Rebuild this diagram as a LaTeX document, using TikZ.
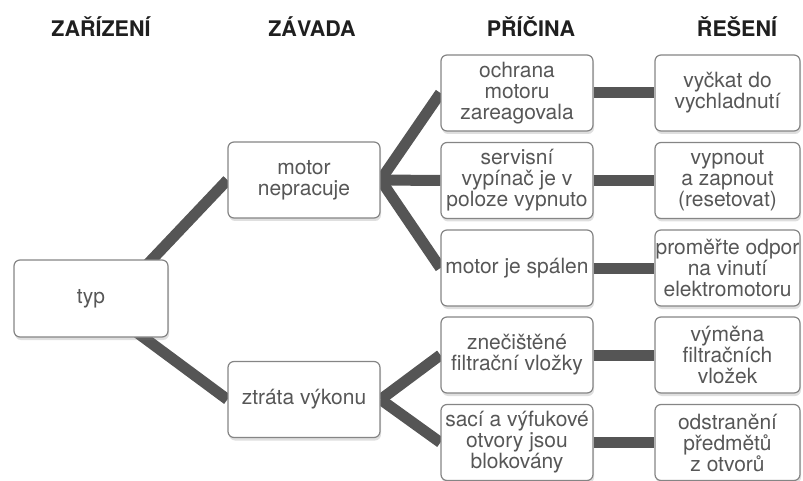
\documentclass[tikz,border=0pt]{standalone}
\usepackage{fontspec}
\setmainfont{TeX Gyre Heros}
\usetikzlibrary{shadows,backgrounds}
\definecolor{linegray}{HTML}{555555}
\definecolor{boxgray}{HTML}{858585}
\definecolor{textgray}{HTML}{575757}
\begin{document}
\begin{tikzpicture}[x=1pt,y=-1pt,
  box/.style={draw=boxgray, line width=1.2pt, rounded corners=6pt, fill=white,
    text=textgray, align=center, inner sep=0pt, minimum width=152pt,
    minimum height=76pt, font=\fontsize{21}{21}\selectfont,
    drop shadow={shadow xshift=1pt, shadow yshift=-3pt, opacity=.25}},
  fixbox/.style={box, minimum width=145pt},
  head/.style={anchor=base, font=\fontsize{21.5}{24}\selectfont\bfseries, text=black!88},
  link/.style={draw=linegray, line width=11pt}]
\useasboundingbox (0,0) rectangle (803,481);
\node[head] (hzar) at (101,37) {ZAŘÍZENÍ};
\node[head] (hzav) at (312,37) {ZÁVADA};
\node[head] (hpri) at (531,37) {PŘÍČINA};
\node[head] (hres) at (737,37) {ŘEŠENÍ};
\node[box, minimum width=154pt, minimum height=77pt] (typ) at (91,298.5) {typ};
\coordinate (typup) at (115,298.5);
\node[box] (motor) at (304,180) {motor\\nepracuje};
\node[box] (vykon) at (304,399.5) {ztráta výkonu};
\node[box] (ochrana) at (517,93) {ochrana\\motoru\\zareagovala};
\node[box] (vypinac) at (517,180.5) {servisní\\vypínač je v\\poloze vypnuto};
\node[box] (spalen) at (517,268) {motor je spálen};
\node[box] (vlozky) at (517,355) {znečištěné\\filtrační vložky};
\node[box] (otvory) at (517,442.5) {sací a výfukové\\otvory jsou\\blokovány};
\node[fixbox] (vyckat) at (727.5,93) {vyčkat do\\vychladnutí};
\node[fixbox] (reset) at (727.5,180.5) {vypnout\\a zapnout\\(resetovat)};
\node[fixbox] (odpor) at (727.5,268) {proměřte odpor\\na vinutí\\elektromotoru};
\node[fixbox] (vymena) at (727.5,355) {výměna\\filtračních\\vložek};
\node[fixbox] (odstraneni) at (727.5,442.5) {odstranění\\předmětů\\z otvorů};
\begin{scope}[on background layer]
\draw[link] (typup) -- (motor.west);
\draw[link] (typ.center) -- (vykon.west);
\foreach \c in {ochrana,vypinac,spalen}
  \draw[link] (motor.east) -- (\c.west);
\foreach \c in {vlozky,otvory}
  \draw[link] (vykon.east) -- (\c.west);
\draw[link] (ochrana) -- (vyckat);
\draw[link] (vypinac) -- (reset);
\draw[link] (spalen) -- (odpor);
\draw[link] (vlozky) -- (vymena);
\draw[link] (otvory) -- (odstraneni);
\end{scope}
\end{tikzpicture}
\end{document}
